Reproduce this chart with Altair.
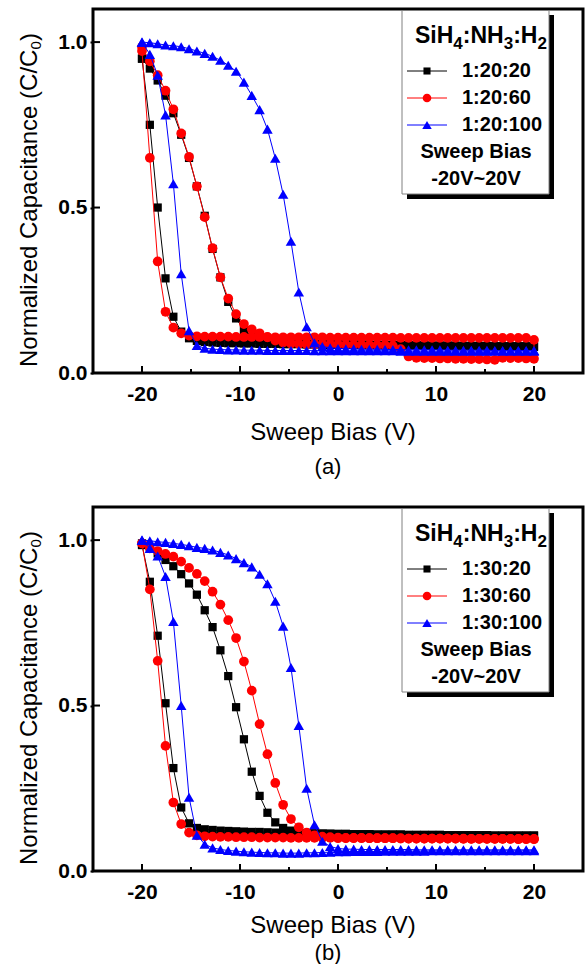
import altair as alt
import pandas as pd

# ---------------- data ----------------
VOLTS = [-20.0, -19.2, -18.4, -17.6, -16.8, -16.0, -15.2, -14.4, -13.6, -12.8,
         -12.0, -11.2, -10.4, -9.6, -8.8, -8.0, -7.2, -6.4, -5.6, -4.8,
         -4.0, -3.2, -2.4, -1.6, -0.8, 0.0, 0.8, 1.6, 2.4, 3.2,
         4.0, 4.8, 5.6, 6.4, 7.2, 8.0, 8.8, 9.6, 10.4, 11.2,
         12.0, 12.8, 13.6, 14.4, 15.2, 16.0, 16.8, 17.6, 18.4, 19.2,
         20.0]

# panel (a)  - forward (-20 -> 20) and reverse (20 -> -20) branches, listed by ascending bias
A_BLK_F = [0.950, 0.750, 0.500, 0.286, 0.170, 0.125, 0.105, 0.097, 0.094, 0.092,
           0.091, 0.090, 0.090, 0.089, 0.089, 0.088, 0.088, 0.088, 0.087, 0.087,
           0.087, 0.086, 0.086, 0.086, 0.085, 0.085, 0.085, 0.085, 0.084, 0.084,
           0.084, 0.084, 0.083, 0.083, 0.083, 0.083, 0.082, 0.082, 0.082, 0.082,
           0.081, 0.081, 0.081, 0.081, 0.080, 0.080, 0.080, 0.080, 0.080, 0.079,
           0.079]
A_BLK_R = [0.950, 0.920, 0.884, 0.838, 0.785, 0.720, 0.650, 0.564, 0.475, 0.375,
           0.289, 0.215, 0.165, 0.130, 0.110, 0.101, 0.096, 0.093, 0.091, 0.090,
           0.089, 0.089, 0.088, 0.088, 0.087, 0.087, 0.087, 0.086, 0.086, 0.086,
           0.085, 0.085, 0.085, 0.085, 0.084, 0.084, 0.084, 0.083, 0.083, 0.083,
           0.083, 0.082, 0.082, 0.082, 0.082, 0.081, 0.081, 0.081, 0.081, 0.081,
           0.081]
A_RED_F = [0.973, 0.650, 0.337, 0.185, 0.137, 0.120, 0.113, 0.111, 0.110, 0.110,
           0.110, 0.110, 0.109, 0.109, 0.109, 0.109, 0.109, 0.108, 0.108, 0.108,
           0.108, 0.108, 0.108, 0.108, 0.107, 0.107, 0.107, 0.107, 0.107, 0.107,
           0.107, 0.107, 0.107, 0.106, 0.106, 0.106, 0.106, 0.106, 0.106, 0.106,
           0.106, 0.106, 0.106, 0.106, 0.106, 0.106, 0.106, 0.106, 0.106, 0.106,
           0.100]
A_RED_R = [0.985, 0.942, 0.900, 0.853, 0.797, 0.724, 0.653, 0.564, 0.471, 0.377,
           0.289, 0.225, 0.178, 0.148, 0.132, 0.120, 0.108, 0.098, 0.092, 0.089,
           0.088, 0.087, 0.087, 0.086, 0.086, 0.086, 0.085, 0.085, 0.085, 0.084,
           0.084, 0.084, 0.082, 0.072, 0.050, 0.046, 0.045, 0.045, 0.044, 0.044,
           0.043, 0.043, 0.042, 0.042, 0.041, 0.040, 0.046, 0.045, 0.045, 0.044,
           0.043]
A_BLU_F = [1.000, 0.963, 0.900, 0.780, 0.572, 0.300, 0.128, 0.083, 0.075, 0.072,
           0.071, 0.070, 0.070, 0.069, 0.069, 0.069, 0.068, 0.068, 0.068, 0.068,
           0.068, 0.068, 0.067, 0.067, 0.067, 0.067, 0.067, 0.067, 0.067, 0.067,
           0.067, 0.067, 0.067, 0.066, 0.066, 0.066, 0.066, 0.066, 0.066, 0.066,
           0.066, 0.066, 0.066, 0.066, 0.066, 0.066, 0.066, 0.066, 0.066, 0.066,
           0.066]
A_BLU_R = [1.000, 0.998, 0.995, 0.991, 0.989, 0.986, 0.980, 0.973, 0.966, 0.957,
           0.945, 0.930, 0.912, 0.879, 0.839, 0.796, 0.737, 0.649, 0.540, 0.398,
           0.245, 0.140, 0.091, 0.080, 0.076, 0.074, 0.073, 0.073, 0.072, 0.072,
           0.072, 0.071, 0.071, 0.071, 0.070, 0.070, 0.070, 0.070, 0.070, 0.069,
           0.069, 0.069, 0.069, 0.069, 0.069, 0.068, 0.068, 0.068, 0.068, 0.068,
           0.068]

# panel (b)
B_BLK_F = [0.985, 0.874, 0.711, 0.507, 0.311, 0.192, 0.144, 0.130, 0.126, 0.124,
           0.122, 0.121, 0.120, 0.119, 0.118, 0.118, 0.117, 0.116, 0.116, 0.115,
           0.115, 0.114, 0.113, 0.113, 0.112, 0.112, 0.112, 0.111, 0.111, 0.111,
           0.110, 0.110, 0.110, 0.110, 0.109, 0.109, 0.109, 0.109, 0.109, 0.108,
           0.108, 0.108, 0.108, 0.108, 0.108, 0.107, 0.107, 0.107, 0.107, 0.107,
           0.107]
B_BLK_R = [0.990, 0.975, 0.960, 0.940, 0.921, 0.897, 0.869, 0.835, 0.788, 0.737,
           0.667, 0.589, 0.495, 0.398, 0.300, 0.227, 0.176, 0.147, 0.130, 0.122,
           0.117, 0.115, 0.114, 0.113, 0.113, 0.112, 0.112, 0.111, 0.111, 0.111,
           0.110, 0.110, 0.110, 0.110, 0.109, 0.109, 0.109, 0.109, 0.109, 0.108,
           0.108, 0.108, 0.108, 0.108, 0.108, 0.107, 0.107, 0.107, 0.107, 0.107,
           0.107]
B_RED_F = [0.990, 0.851, 0.635, 0.378, 0.207, 0.142, 0.116, 0.108, 0.105, 0.104,
           0.103, 0.103, 0.102, 0.102, 0.102, 0.101, 0.101, 0.101, 0.101, 0.100,
           0.100, 0.100, 0.100, 0.100, 0.100, 0.099, 0.099, 0.099, 0.099, 0.099,
           0.099, 0.099, 0.099, 0.098, 0.098, 0.098, 0.098, 0.098, 0.098, 0.098,
           0.098, 0.098, 0.097, 0.097, 0.097, 0.097, 0.097, 0.097, 0.097, 0.097,
           0.097]
B_RED_R = [0.990, 0.975, 0.967, 0.958, 0.950, 0.935, 0.916, 0.898, 0.876, 0.844,
           0.805, 0.758, 0.704, 0.633, 0.545, 0.444, 0.353, 0.266, 0.200, 0.157,
           0.132, 0.116, 0.108, 0.104, 0.102, 0.101, 0.100, 0.100, 0.100, 0.099,
           0.099, 0.099, 0.099, 0.099, 0.098, 0.098, 0.098, 0.098, 0.098, 0.098,
           0.098, 0.097, 0.097, 0.097, 0.097, 0.097, 0.097, 0.097, 0.096, 0.096,
           0.096]
B_BLU_F = [1.000, 0.975, 0.952, 0.890, 0.754, 0.500, 0.223, 0.108, 0.081, 0.070,
           0.065, 0.062, 0.060, 0.058, 0.057, 0.056, 0.055, 0.055, 0.054, 0.054,
           0.054, 0.055, 0.055, 0.056, 0.057, 0.058, 0.058, 0.059, 0.059, 0.059,
           0.059, 0.060, 0.060, 0.060, 0.060, 0.060, 0.060, 0.061, 0.061, 0.061,
           0.061, 0.061, 0.061, 0.061, 0.061, 0.061, 0.061, 0.061, 0.061, 0.061,
           0.061]
B_BLU_R = [1.000, 0.998, 0.995, 0.993, 0.990, 0.987, 0.983, 0.978, 0.975, 0.970,
           0.963, 0.955, 0.944, 0.932, 0.919, 0.897, 0.868, 0.815, 0.740, 0.615,
           0.440, 0.250, 0.140, 0.090, 0.074, 0.068, 0.066, 0.066, 0.065, 0.065,
           0.065, 0.065, 0.065, 0.065, 0.065, 0.064, 0.064, 0.064, 0.064, 0.064,
           0.064, 0.064, 0.064, 0.064, 0.064, 0.064, 0.064, 0.064, 0.064, 0.064,
           0.064]

LABELS_A = ["1:20:20", "1:20:60", "1:20:100"]
LABELS_B = ["1:30:20", "1:30:60", "1:30:100"]
X_MAJOR = [-20, -10, 0, 10, 20]
X_MINOR = [-15, -5, 5, 15]
Y_MAJOR = [0.0, 0.5, 1.0]

for arr in [A_BLK_F, A_BLK_R, A_RED_F, A_RED_R, A_BLU_F, A_BLU_R,
            B_BLK_F, B_BLK_R, B_RED_F, B_RED_R, B_BLU_F, B_BLU_R]:
    assert len(arr) == len(VOLTS)

# ---------------- styling ----------------
COLORS = ["#000000", "#ff0000", "#0000ff"]
SHAPES = ["square", "circle", "triangle-up"]
SIZES = [68, 95, 110]
LEG_SIZES = [50, 75, 90]
FONT = "Liberation Sans, Arial, Helvetica, sans-serif"
W, H = 490, 364

xs = alt.Scale(domain=[-25, 25], nice=False, zero=False)
ys = alt.Scale(domain=[0, 1.1], nice=False, zero=False)
XAX = alt.Axis(values=X_MAJOR, title=None, grid=False, domain=False, tickSize=0,
               labelPadding=10, labelFont=FONT, labelFontSize=21, labelFontWeight="bold",
               labelColor="black", labelExpr="toString(datum.value)", labelFlush=False)
YAX = alt.Axis(values=Y_MAJOR, title=None, grid=False, domain=False, tickSize=3,
               tickWidth=2, tickColor="black", labelPadding=3, format=".1f",
               labelFont=FONT, labelFontSize=21, labelFontWeight="bold", labelColor="black")


def one():
    return alt.Data(values=[{"k": 1}])


def txt(s, x, y, size, weight="bold", align="center", baseline="middle", angle=0):
    return alt.Chart(one()).mark_text(
        text=s, font=FONT, fontSize=size, fontWeight=weight, align=align,
        baseline=baseline, angle=angle, color="black"
    ).encode(x=alt.value(x), y=alt.value(y))


def loop_df(fwd, rev):
    v = VOLTS + VOLTS[::-1]
    c = fwd + rev[::-1]
    return pd.DataFrame({"V": v, "C": c, "i": list(range(len(v)))})


def panel(series, labels, letter, title_y, letter_y):
    layers = []
    for k, (fwd, rev) in enumerate(series):
        base = alt.Chart(loop_df(fwd, rev))
        x = alt.X("V:Q", scale=xs, axis=XAX)
        y = alt.Y("C:Q", scale=ys, axis=YAX)
        layers.append(base.mark_line(color=COLORS[k], strokeWidth=1).encode(x=x, y=y, order="i:Q"))
        layers.append(base.mark_point(shape=SHAPES[k], size=SIZES[k], filled=True,
                                      color=COLORS[k], opacity=1, strokeWidth=0).encode(x=x, y=y))
    # inward ticks
    layers.append(alt.Chart(pd.DataFrame({"v": X_MAJOR})).mark_rule(color="black", strokeWidth=2)
                  .encode(x=alt.X("v:Q", scale=xs, axis=XAX), y=alt.value(H), y2=alt.value(H - 7)))
    layers.append(alt.Chart(pd.DataFrame({"v": X_MINOR})).mark_rule(color="black", strokeWidth=2)
                  .encode(x=alt.X("v:Q", scale=xs, axis=XAX), y=alt.value(H), y2=alt.value(H - 4)))
    layers.append(alt.Chart(pd.DataFrame({"v": Y_MAJOR})).mark_rule(color="black", strokeWidth=2)
                  .encode(y=alt.Y("v:Q", scale=ys, axis=YAX), x=alt.value(0), x2=alt.value(7)))
    # plot frame
    layers.append(alt.Chart(one()).mark_rect(fillOpacity=0, stroke="black", strokeWidth=3).encode(
        x=alt.value(0), x2=alt.value(W), y=alt.value(0), y2=alt.value(H)))
    # legend box with shadow
    layers.append(alt.Chart(one()).mark_rect(color="black").encode(
        x=alt.value(314), x2=alt.value(461), y=alt.value(6), y2=alt.value(190)))
    layers.append(alt.Chart(one()).mark_rect(fill="white", stroke="#808080", strokeWidth=1).encode(
        x=alt.value(309), x2=alt.value(456), y=alt.value(1.5), y2=alt.value(185)))
    # legend title SiH4:NH3:H2 with subscripts
    pieces = [("SiH", 322, 23, 34), ("4", 360.3, 17, 40), (":NH", 369.8, 23, 34),
              ("3", 410.7, 17, 40), (":H", 420.2, 23, 34), ("2", 444.5, 17, 40)]
    for s, px, fs, py in pieces:
        layers.append(txt(s, px, py, fs, align="left", baseline="alphabetic"))
    rows = [62, 89, 116]
    for k, lab in enumerate(labels):
        layers.append(alt.Chart(one()).mark_rule(color=COLORS[k], strokeWidth=1).encode(
            x=alt.value(314), x2=alt.value(354), y=alt.value(rows[k])))
        layers.append(alt.Chart(one()).mark_point(shape=SHAPES[k], size=LEG_SIZES[k], filled=True,
                                                  color=COLORS[k], opacity=1).encode(
            x=alt.value(334), y=alt.value(rows[k])))
        layers.append(txt(lab, 369, rows[k], 20, align="left"))
    layers.append(txt("Sweep Bias", 383, 143, 20))
    layers.append(txt("-20V~20V", 383, 170, 20))
    # y title "Normalized Capacitance (C/C0)" (rotated, with subscript)
    layers.append(txt("Normalized Capacitance (C/C", -56, 358, 24, weight="normal",
                      align="left", baseline="alphabetic", angle=270))
    layers.append(txt("0", -52, 40.5, 15, weight="normal", align="left",
                      baseline="alphabetic", angle=270))
    layers.append(txt(")", -56, 32, 24, weight="normal", align="left",
                      baseline="alphabetic", angle=270))
    # x title and panel letter
    layers.append(txt("Sweep Bias (V)", 240, title_y, 24, weight="normal", baseline="alphabetic"))
    layers.append(txt(letter, 235, letter_y, 22, weight="normal", baseline="alphabetic"))
    return alt.layer(*layers).properties(width=W, height=H)


pa = panel([(A_BLK_F, A_BLK_R), (A_RED_F, A_RED_R), (A_BLU_F, A_BLU_R)], LABELS_A, "(a)", 431, 465)
pb = panel([(B_BLK_F, B_BLK_R), (B_RED_F, B_RED_R), (B_BLU_F, B_BLU_R)], LABELS_B, "(b)", 426, 453)

chart = alt.vconcat(pa, pb, spacing=134, bounds="flush").properties(
    padding={"left": 17, "top": 7, "right": 0, "bottom": 0},
    background="white",
).configure_view(strokeWidth=0)

chart.save("out.html", embed_options={"renderer": "svg", "actions": False})
